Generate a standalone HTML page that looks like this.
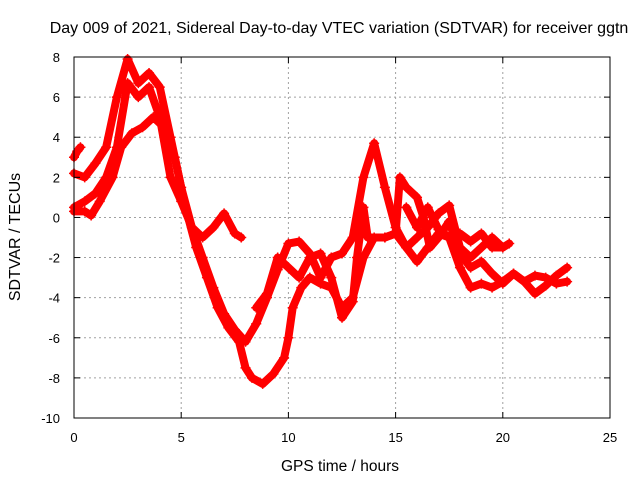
<!DOCTYPE html>
<html><head><meta charset="utf-8"><style>
body{margin:0;background:#fff;}
svg{display:block;font-family:"Liberation Sans",sans-serif;}
</style></head><body>
<svg id="chart" width="640" height="480">
<text x="339" y="33" font-size="16" text-anchor="middle">Day 009 of 2021, Sidereal Day-to-day VTEC variation (SDTVAR) for receiver ggtn</text>
<text x="340" y="471" font-size="15.5" text-anchor="middle">GPS time / hours</text>
<text x="20" y="237" font-size="16" text-anchor="middle" transform="rotate(-90 20 237)">SDTVAR / TECUs</text>
<g id="grid"></g><g id="marks"></g><g id="axes"></g>
</svg>
<script>
const xTicks=[0,5,10,15,20,25];
const yTicks=[-10,-8,-6,-4,-2,0,2,4,6,8];
const s1t=[0,0.5,1,1.5,2,2.5,3,3.5,4,4.5,5,5.5,6,6.5,7,7.5,8,8.5,9,9.5,10,10.5,11,11.5,12,12.5,13,13.5,14,14.5,15,15.5,16,16.5,17,17.5,18,18.5,19,19.5,20,20.5,21,21.5,22,22.5,23];
const s1v=[2.2,2.0,2.7,3.5,6.0,7.9,6.7,7.2,6.5,4.0,1.5,-0.5,-2.0,-3.5,-4.8,-5.6,-6.2,-5.3,-4.0,-2.6,-1.3,-1.2,-1.8,-3.0,-2.0,-1.8,-1.0,2.0,3.7,1.5,-0.5,-1.5,-2.2,-1.5,-0.8,-1.0,-2.5,-3.5,-3.3,-3.5,-3.2,-2.8,-3.2,-2.9,-3.0,-3.3,-3.2];
const s2t=[0,0.5,1,1.5,2,2.5,3,3.5,4,4.5,5,5.5,6,6.5,7,7.5,7.8];
const s2v=[0.5,0.8,1.2,2.0,3.5,6.7,6.0,6.5,5.0,2.0,0.8,-0.5,-1.0,-0.5,0.2,-0.8,-1.0];
const s3t=[0,0.15,0.3];
const s3v=[3.0,3.3,3.5];
const s4t=[0,0.5,0.8,1.2,1.8,2.2,2.7,3.2,3.7,4.2,4.7,5.2,5.7,6.2,6.7,7.2,7.7,8.0,8.3,8.8,9.3,9.8,10,10.2,10.6,11,11.5,12,12.5,13,13.5,14,14.5,15,15.5,16,16.5,17,17.5,18,18.5,19,19.5,20];
const s4v=[0.3,0.3,0.1,0.8,2.0,3.5,4.2,4.5,5.0,4.5,3.0,0.5,-1.5,-3.0,-4.5,-5.5,-6.2,-7.5,-8.0,-8.3,-7.8,-7.0,-6.0,-4.5,-3.5,-3.0,-3.3,-3.5,-4.5,-4.0,-2.0,-1.0,-1.0,-0.8,-1.5,-1.0,-0.5,0.2,0.6,-1.5,-2.0,-1.5,-1.0,-1.5];
const s5t=[8.5,9,9.5,10,10.5,11,11.5,12,12.5,13,13.2,13.5,13.7,14.5,15,15.2,15.5,16,16.3,16.6,17,17.5,18,18.5,19,19.5,20,20.5,21,21.5,22,22.5,23];
const s5v=[-4.5,-3.8,-2.0,-2.5,-3.0,-2.0,-1.8,-3.0,-5.0,-4.2,-2.0,0.5,-1.0,-1.0,-0.8,2.0,1.5,1.0,0.0,-1.5,-1.0,-0.2,-1.8,-2.5,-2.2,-2.8,-3.3,-2.8,-3.2,-3.8,-3.4,-2.9,-2.5];
const s6t=[15.5,16,16.5,17,17.5,18,18.5,19,19.5,20,20.3];
const s6v=[0.5,-0.5,0.5,-0.6,-1.0,-0.8,-1.2,-0.8,-1.5,-1.5,-1.3];
const series=[[s1t,s1v],[s2t,s2v],[s3t,s3v],[s4t,s4v],[s5t,s5v],[s6t,s6v]];
const X0=74,X1=610,Y0=418,Y1=57;
function xs(t){return X0+(t-0)/(25-0)*(X1-X0);}
function ys(v){return Y0-(v+10)/(18)*(Y0-Y1);}
const NS="http://www.w3.org/2000/svg";
function mk(tag,attrs,parent){const e=document.createElementNS(NS,tag);for(const k in attrs)e.setAttribute(k,attrs[k]);parent.appendChild(e);return e;}
const grid=document.getElementById('grid'),axes=document.getElementById('axes'),marks=document.getElementById('marks');
xTicks.forEach(t=>{const x=xs(t);
 if(t>0&&t<25){const g=mk('line',{x1:x,x2:x,y1:Y1,y2:Y0,stroke:'#a0a0a0','stroke-dasharray':'2,3'},grid);
 
 }
 const l=mk('text',{x:x,y:Y0+24,'font-size':13,'text-anchor':'middle'},axes);l.textContent=t;
 
 
 mk('line',{x1:x,x2:x,y1:Y0,y2:Y0-6,stroke:'#000'},axes);mk('line',{x1:x,x2:x,y1:Y1,y2:Y1+6,stroke:'#000'},axes);});
yTicks.forEach(v=>{const y=ys(v);
 if(v>-10&&v<8){const g=mk('line',{x1:X0,x2:X1,y1:y,y2:y,stroke:'#a0a0a0','stroke-dasharray':'2,3'},grid);
 
 }
 const l=mk('text',{x:X0-14,y:y+5,'font-size':13,'text-anchor':'end'},axes);l.textContent=v;
 
 
 mk('line',{x1:X0,x2:X0+6,y1:y,y2:y,stroke:'#000'},axes);mk('line',{x1:X1,x2:X1-6,y1:y,y2:y,stroke:'#000'},axes);});
const fr=mk('rect',{x:X0,y:Y1,width:X1-X0,height:Y0-Y1,fill:'none',stroke:'#000'},axes);


series.forEach((s,i)=>{const pts=s[0].map((t,j)=>xs(t)+','+ys(s[1][j])).join(' ');
 const pl=mk('polyline',{points:pts,fill:'none',stroke:'#ff0000','stroke-width':8,'stroke-linejoin':'round','stroke-linecap':'round'},marks);
 
 
 s[0].forEach((t,j)=>{const x=xs(t),y=ys(s[1][j]);
  const p=mk('path',{d:`M${x-5},${y}H${x+5}M${x},${y-5}V${y+5}`,stroke:'#ff0000','stroke-width':1.5},marks);
  
  });});
</script>
</body></html>
